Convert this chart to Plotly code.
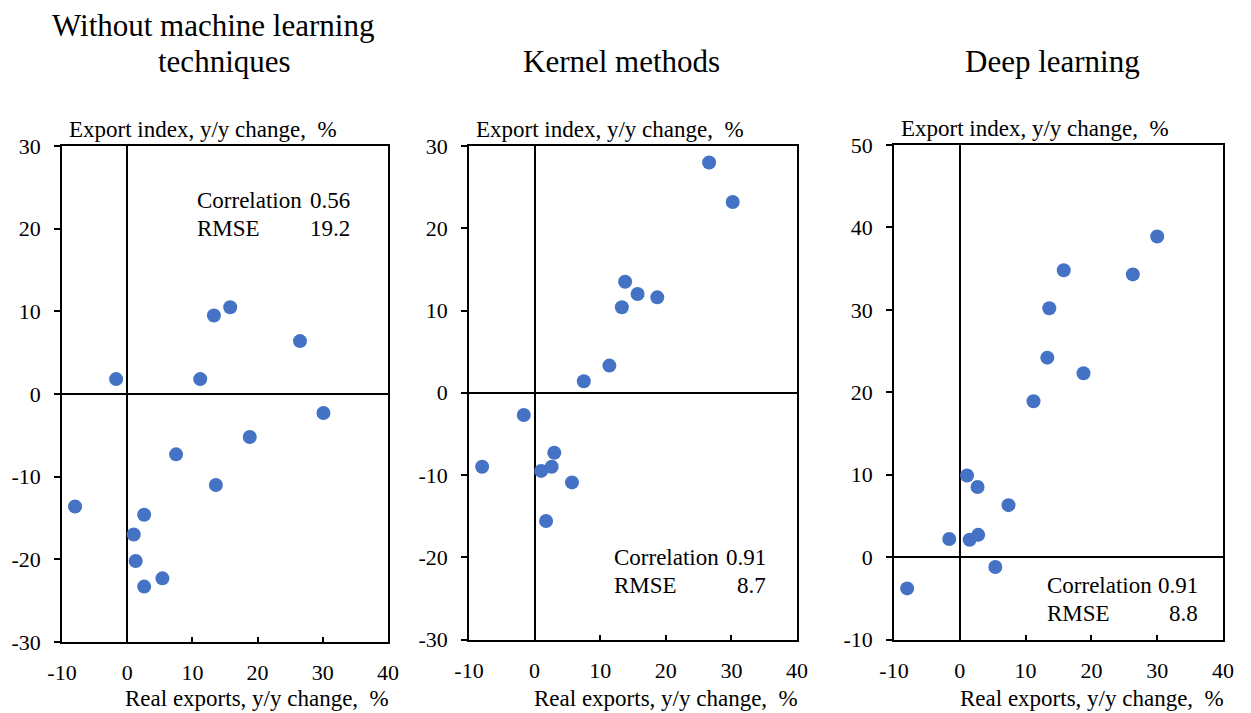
import plotly.graph_objects as go

# Real exports (x) vs. export index (y), y/y change in %
x_plain = [-8.0, -1.7, 1.0, 1.3, 2.6, 2.6, 5.4, 7.5, 11.2, 13.3, 13.6, 15.8, 18.8, 26.5, 30.1]
y_plain = [-13.6, 1.8, -17.0, -20.2, -14.6, -23.3, -22.3, -7.3, 1.8, 9.5, -11.0, 10.5, -5.2, 6.4, -2.3]

x_kernel = [-8.0, -1.65, 1.0, 1.75, 2.6, 3.0, 5.7, 7.5, 11.4, 13.3, 13.8, 15.7, 18.7, 26.6, 30.2]
y_kernel = [-9.0, -2.7, -9.5, -15.6, -9.0, -7.3, -10.9, 1.4, 3.3, 10.4, 13.5, 12.0, 11.6, 28.0, 23.2]

x_deep = [-8.0, -1.6, 1.1, 1.5, 2.7, 2.8, 5.4, 7.4, 11.2, 13.3, 13.6, 15.8, 18.8, 26.3, 30.0]
y_deep = [-3.8, 2.2, 9.9, 2.1, 8.5, 2.7, -1.2, 6.3, 18.9, 24.2, 30.2, 34.8, 22.3, 34.3, 38.9]

panel_titles = [["Without machine learning", "techniques"], ["Kernel methods"], ["Deep learning"]]
correlations = ["0.56", "0.91", "0.91"]
rmses = ["19.2", "8.7", "8.8"]

x_ticks = [-10, 0, 10, 20, 30, 40]
y_ticks = [[-30, -20, -10, 0, 10, 20, 30],
           [-30, -20, -10, 0, 10, 20, 30],
           [-10, 0, 10, 20, 30, 40, 50]]

x_title = "Real exports, y/y change, \u00a0%"
y_title = "Export index, y/y change, \u00a0%"

W, H = 1251, 713
SERIF = "Liberation Serif, Times New Roman, serif"
BLUE = "#4472C4"


def px(xp):
    return xp / W


def py(yp):
    return 1 - yp / H


# plot-area boxes in pixels: (left, right, top, bottom)
boxes = [(62, 388, 146, 642), (469, 797, 146, 639.5), (894, 1223, 145, 639.5)]

fig = go.Figure()
series = [(x_plain, y_plain), (x_kernel, y_kernel), (x_deep, y_deep)]

for i, ((xs, ys), (l, r, t, b)) in enumerate(zip(series, boxes)):
    n = "" if i == 0 else str(i + 1)
    fig.add_trace(go.Scatter(
        x=xs, y=ys, mode="markers", xaxis="x" + n, yaxis="y" + n,
        marker=dict(color=BLUE, size=14, line=dict(width=0)),
        showlegend=False, hoverinfo="x+y",
    ))
    common = dict(
        showline=True, mirror=True, linecolor="black", linewidth=1.5,
        showgrid=False, zeroline=True, zerolinecolor="black", zerolinewidth=1.5,
        tickcolor="black", tickwidth=1.5, automargin=False,
        tickfont=dict(family=SERIF, size=22, color="black"),
        fixedrange=True,
    )
    yt = y_ticks[i]
    fig.update_layout(**{
        "xaxis" + n: dict(common, domain=[px(l), px(r)], range=[x_ticks[0], x_ticks[-1]],
                          tickmode="array", tickvals=x_ticks,
                          ticktext=[str(v) for v in x_ticks],
                          ticks="inside", ticklen=5, ticklabelstandoff=10,
                          anchor="y" + n),
        "yaxis" + n: dict(common, domain=[py(b), py(t)], range=[yt[0], yt[-1]],
                          tickmode="array", tickvals=yt,
                          ticktext=[str(v) for v in yt],
                          ticks="outside", ticklen=6, ticklabelstandoff=9,
                          anchor="x" + n),
    })

annotations = []


def text(xp, yp, s, size, xanchor="center"):
    annotations.append(dict(
        x=px(xp), y=py(yp), xref="paper", yref="paper", text=s, showarrow=False,
        xanchor=xanchor, yanchor="middle",
        font=dict(family=SERIF, size=size, color="black"),
    ))


# panel titles
text(213, 25, panel_titles[0][0], 31)
text(224, 61, panel_titles[0][1], 31)
text(621, 61, panel_titles[1][0], 31)
text(1052, 61, panel_titles[2][0], 31)

# axis titles
for (l, r, t, b) in boxes:
    text(l + 5, t - 17, y_title, 23, "left")
    text(r + 3, 698, x_title, 23, "right")

# statistics boxes: (label-left, value-right, first-line-y)
stat_pos = [(195, 352, 200), (612, 768, 557), (1045, 1200, 585)]
for (lx, rx, ly), c, e in zip(stat_pos, correlations, rmses):
    text(lx, ly, "Correlation", 23, "left")
    text(rx, ly, c, 23, "right")
    text(lx, ly + 28, "RMSE", 23, "left")
    text(rx, ly + 28, e, 23, "right")

fig.update_layout(
    width=W, height=H, margin=dict(l=0, r=0, t=0, b=0, autoexpand=False),
    paper_bgcolor="white", plot_bgcolor="white",
    annotations=annotations,
)

fig.write_html("out.html", post_script="document.body.style.margin = '0';")
